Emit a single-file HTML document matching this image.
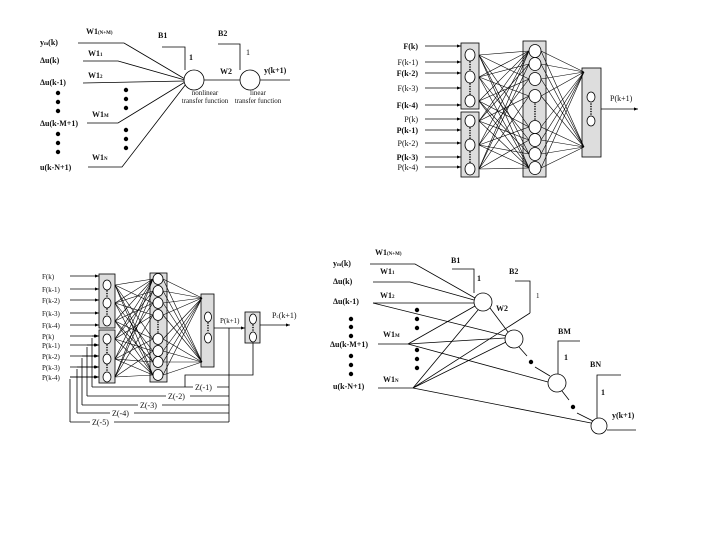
<!DOCTYPE html>
<html><head><meta charset="utf-8"><style>
html,body{margin:0;padding:0;background:#fff;}
svg{display:block;}
text{font-family:"Liberation Serif",serif;font-size:8px;fill:#111;}
.b{font-weight:bold;}
</style></head><body>
<svg id="s" width="720" height="540" viewBox="0 0 720 540" xmlns="http://www.w3.org/2000/svg">
<defs><marker id="a" markerWidth="5" markerHeight="4" refX="5" refY="2" orient="auto"><path d="M0,0 L5,2 L0,4z" fill="#000"/></marker></defs>
<g id="g" stroke="#000" stroke-width="0.8" fill="none"></g>
<g id="t"></g>
</svg>
<script>
const g=document.getElementById('g'),t=document.getElementById('t'),NS='http://www.w3.org/2000/svg';
function L(x1,y1,x2,y2,ar,c,w){const e=document.createElementNS(NS,'line');e.setAttribute('x1',x1);e.setAttribute('y1',y1);e.setAttribute('x2',x2);e.setAttribute('y2',y2);if(ar)e.setAttribute('marker-end','url(#a)');if(c)e.setAttribute('stroke',c);if(w)e.setAttribute('stroke-width',w);g.appendChild(e);}
function P(pts,c){const e=document.createElementNS(NS,'polyline');e.setAttribute('points',pts);if(c)e.setAttribute('stroke',c);g.appendChild(e);}
function C(x,y,r,ry){const e=document.createElementNS(NS,'ellipse');e.setAttribute('cx',x);e.setAttribute('cy',y);e.setAttribute('rx',r);e.setAttribute('ry',ry||r);e.setAttribute('fill','#fff');g.appendChild(e);}
function R(x,y,w,h){const e=document.createElementNS(NS,'rect');e.setAttribute('x',x);e.setAttribute('y',y);e.setAttribute('width',w);e.setAttribute('height',h);e.setAttribute('fill','#ddd');g.appendChild(e);}
function D(x,y,r){const e=document.createElementNS(NS,'circle');e.setAttribute('cx',x);e.setAttribute('cy',y);e.setAttribute('r',r||2.2);e.setAttribute('fill','#000');e.setAttribute('stroke','none');t.appendChild(e);}
function T(x,y,s,sz,b,anchor){const e=document.createElementNS(NS,'text');e.setAttribute('x',x);e.setAttribute('y',y);if(sz)e.style.fontSize=sz+'px';if(b)e.setAttribute('class','b');if(anchor)e.setAttribute('text-anchor',anchor);e.innerHTML=s;t.appendChild(e);}
function VD(x,y1,y2){for(let y=y1;y<=y2;y+=2.5)D(x,y,0.8);}

/* ---------- Quadrant 1 ---------- */
P('78,43 124,43 185,79');P('83,61 118,61 185,80');L(83,83,185,81);
P('87,123 118,123 185,82');P('88,167 122,167 186,84');
C(194,80,10);C(250,80,10);
L(204,80,240,80);L(260,80,290,80);
P('162,47 185,47 185,70');P('218,44 240,44 240,70');
[[40,45,'y<tspan font-size="5">m</tspan>(k)'],[40,63,'Δu(k)'],[40,85,'Δu(k-1)'],[40,126,'Δu(k-M+1)'],[40,170,'u(k-N+1)']].forEach(a=>T(a[0],a[1],a[2],8,1));
[[58,93],[58,102],[58,111],[58,134],[58,143],[58,152],[126,90],[126,99],[126,108],[126,130],[126,139],[126,148]].forEach(a=>D(a[0],a[1]));
T(86,34,'W1<tspan font-size="5">(N+M)</tspan>',8,1);T(88,56,'W1<tspan font-size="5">1</tspan>',8,1);T(88,78,'W1<tspan font-size="5">2</tspan>',8,1);
T(92,117,'W1<tspan font-size="5">M</tspan>',8,1);T(92,160,'W1<tspan font-size="5">N</tspan>',8,1);
T(158,38,'B1',8,1);T(218,36,'B2',8,1);T(189,60,'1',8,1);T(246,55,'1',8);T(220,74,'W2',8,1);T(264,73,'y(k+1)',8,1);
T(205,95,'nonlinear',7,0,'middle');T(205,103,'transfer function',7,0,'middle');T(258,95,'linear',7,0,'middle');T(258,103,'transfer function',7,0,'middle');

/* ---------- Quadrant 2 ---------- */
R(461,43,18,66);R(461,112,18,65);R(523,41,23,136);R(582,68,19,89);
const in2=[[470,55],[470,77],[470,101],[470,121],[470,145],[470,169]];
const mid2=[51,64,79,96,127,140,154,168].map(y=>[535,y]);
in2.forEach((p,i)=>mid2.forEach((q,j)=>{if((i+j)%2==0||j==0||j==7)L(479,p[1],q[0]-6,q[1],0,0,0.6);}));
mid2.forEach(q=>{L(q[0]+6,q[1],584,72,0,0,0.6);L(q[0]+6,q[1],584,147,0,0,0.6);});
in2.forEach(p=>C(p[0],p[1],5,6));mid2.forEach(q=>C(q[0],q[1],6,6.5));
VD(470,62,71);VD(470,84,95);VD(470,128,139);VD(470,152,163);VD(535,104,119);
C(591,97,4,5);C(591,121,4,5);VD(591,104,115);
L(601,109,638,109,1);T(610,101,'P(k+1)',8);
const l2=['F(k)','F(k-1)','F(k-2)','F(k-3)','F(k-4)','P(k)','P(k-1)','P(k-2)','P(k-3)','P(k-4)'];
const y2=[46,62,73,88,105,119,130,143,157,167];
l2.forEach((s,i)=>{T(418,y2[i]+3,s,8,i%2==0,'end');L(425,y2[i],461,y2[i],1);});

/* ---------- Quadrant 3 ---------- */
R(99,274,16,54);R(99,330,16,53);R(150,273,17,109);R(201,294,13,73);R(245,312,15,31);
const in3=[285,303,321,339,359,377].map(y=>[107,y]);
const mid3=[279,291,303,315,339,351,362,375].map(y=>[158,y]);
in3.forEach((p,i)=>mid3.forEach((q,j)=>{if((i+j)%2==0||j==0||j==7)L(115,p[1],q[0]-5,q[1],0,0,0.6);}));
mid3.forEach(q=>{L(q[0]+5,q[1],202,298,0,0,0.6);L(q[0]+5,q[1],202,362,0,0,0.6);});
in3.forEach(p=>C(p[0],p[1],4,5));mid3.forEach(q=>C(q[0],q[1],5,5.5));
VD(107,291,297);VD(107,309,315);VD(107,345,353);VD(107,365,371);VD(158,322,332);
C(208,317,3.5,5);C(208,338,3.5,5);VD(208,323,332);
C(253,319,3.5,5);C(253,337,3.5,5);VD(253,325,331);
L(214,328,245,328,1);L(260,325,290,325,1);
T(220,323,'P(k+1)',7);T(272,318,'P<tspan font-size="5">c</tspan>(k+1)',8);
const l3=['F(k)','F(k-1)','F(k-2)','F(k-3)','F(k-4)','P(k)','P(k-1)','P(k-2)','P(k-3)','P(k-4)'];
const y3=[276,289,300,313,325,336,345,356,367,377];
l3.forEach((s,i)=>{T(42,y3[i]+3,s,7);L(70,y3[i],99,y3[i],1);});
L(229,328,229,422);
[[387,92,336,'Z(-1)',195],[396,87,345,'Z(-2)',168],[405,82,356,'Z(-3)',140],[413,77,367,'Z(-4)',112],[422,70,377,'Z(-5)',92]].forEach(z=>{
 L(229,z[0],z[1],z[0]);L(z[1],z[0],z[1],z[2]+2);L(z[1],z[2],98,z[2],1);
 const bg=document.createElementNS(NS,'rect');bg.setAttribute('x',z[4]-2);bg.setAttribute('y',z[0]-5);bg.setAttribute('width',24);bg.setAttribute('height',9);bg.setAttribute('fill','#fff');t.appendChild(bg);
 T(z[4],z[0]+3,z[3],8);});
P('253,343 253,375 185,375 185,387');

/* ---------- Quadrant 4 ---------- */
const N1=[483,302],N2=[514,339],N3=[557,383],N4=[599,426];
P('370,264 415,264 475,298');P('373,282 410,282 474,300');L(373,303,474,303);L(373,303,506,336);
P('378,344 408,344');P('378,388 413,388');
L(408,344,475,306);L(408,344,505,338);L(408,344,548,382);
L(413,388,478,310);L(413,388,506,342);L(413,388,591,423);
L(530,313,413,388);L(490,308,508,332);
P('452,269 474,269 474,293');P('515,281 530,281 530,313');P('580,341 558,341 558,375');P('621,375 597,375 597,419');
C(N1[0],N1[1],9);C(N2[0],N2[1],9);C(N3[0],N3[1],9);C(N4[0],N4[1],8);
L(519,347,527,356);L(535,367,550,376);L(562,391,569,400);L(577,413,593,421);
D(531,362);D(573,407);
L(607,430,636,430);
[[333,266,'y<tspan font-size="5">m</tspan>(k)'],[333,284,'Δu(k)'],[333,304,'Δu(k-1)'],[330,347,'Δu(k-M+1)'],[333,389,'u(k-N+1)']].forEach(a=>T(a[0],a[1],a[2],8,1));
[[351,319],[351,327],[351,336],[351,356],[351,365],[351,374],[417,310],[417,319],[417,328],[417,350],[417,359],[417,368]].forEach(a=>D(a[0],a[1]));
T(375,255,'W1<tspan font-size="5">(N+M)</tspan>',8,1);T(380,274,'W1<tspan font-size="5">1</tspan>',8,1);T(380,298,'W1<tspan font-size="5">2</tspan>',8,1);
T(383,337,'W1<tspan font-size="5">M</tspan>',8,1);T(383,382,'W1<tspan font-size="5">N</tspan>',8,1);
T(451,263,'B1',8,1);T(509,274,'B2',8,1);T(558,334,'BM',8,1);T(590,367,'BN',8,1);
T(477,281,'1',8,1);T(536,298,'1',7);T(564,360,'1',8,1);T(601,395,'1',8,1);T(496,311,'W2',8,1);T(612,418,'y(k+1)',8,1);
</script>
</body></html>
